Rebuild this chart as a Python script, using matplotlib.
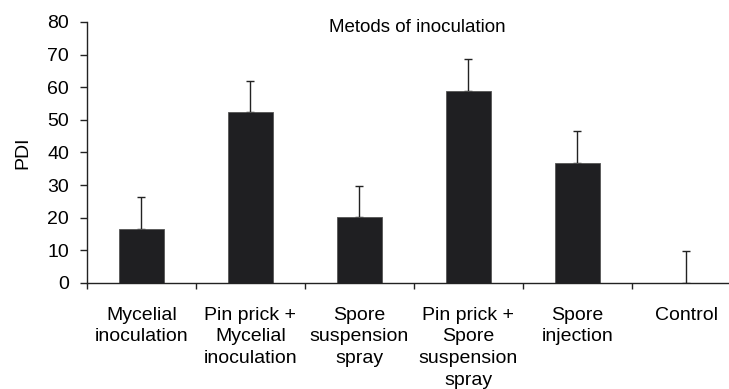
import matplotlib
matplotlib.use("Agg")
import matplotlib.pyplot as plt

# data
methods = ["Mycelial\ninoculation", "Pin prick +\nMycelial\ninoculation",
           "Spore\nsuspension\nspray", "Pin prick +\nSpore\nsuspension\nspray",
           "Spore\ninjection", "Control"]
pdi = [16.5, 52.3, 20.1, 58.8, 36.8, 0.0]
pdi_err = [9.8, 9.7, 9.6, 9.8, 9.8, 9.8]

plt.rcParams['font.family'] = ['Liberation Sans', 'DejaVu Sans']

fig = plt.figure(figsize=(7.29, 3.89), dpi=100)
ax = fig.add_axes([0.1193, 0.2725, 0.897, 0.671])

x = range(len(methods))
ax.bar(x, pdi, width=0.41, color='#1f1f22', edgecolor='#555555', linewidth=0.6, zorder=2)
ax.errorbar(x, pdi, yerr=[[0] * len(pdi), pdi_err], fmt='none',
            ecolor='#222222', elinewidth=1.0, capsize=3, capthick=1.0, zorder=1)

ax.set_xlim(-0.5, 5.5)
ax.set_ylim(0, 80)
ax.set_yticks(range(0, 81, 10))
# group boundaries get the tick marks, labels sit at the bar centres
ax.set_xticks([i - 0.5 for i in range(7)])
ax.set_xticklabels([])
ax.set_xticks(list(x), minor=True)
ax.set_xticklabels(methods, minor=True, fontsize=14, linespacing=1.36)
ax.tick_params(axis='x', which='minor', length=0, pad=17)
ax.tick_params(axis='x', which='major', length=4, width=1, color='#222222')
ax.tick_params(axis='y', length=5, width=1, color='#222222', labelsize=14, pad=8)

for s in ['top', 'right']:
    ax.spines[s].set_visible(False)
for s in ['left', 'bottom']:
    ax.spines[s].set_color('#222222')
    ax.spines[s].set_linewidth(1.0)

ax.set_ylabel('PDI', fontsize=14, labelpad=11)
ax.text(0.505, 0.977, 'Metods of inoculation', transform=ax.transAxes,
        ha='center', va='center', fontsize=13.5)

fig.savefig('out.png', dpi=100)
